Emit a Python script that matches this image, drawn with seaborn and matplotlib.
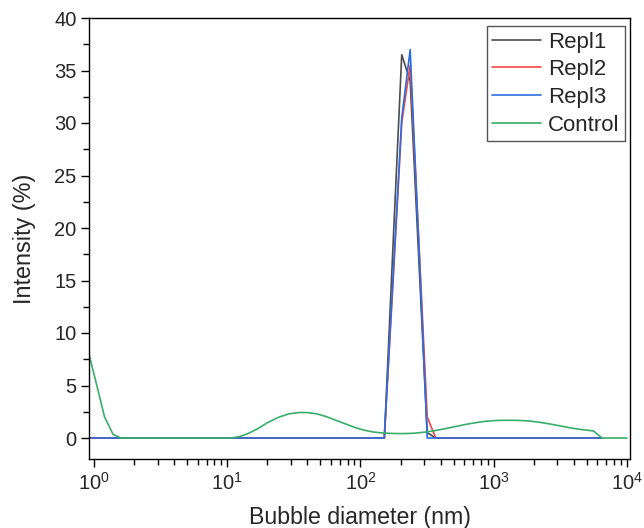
import numpy as np
import pandas as pd
import matplotlib
matplotlib.use('Agg')
import matplotlib.pyplot as plt
import seaborn as sns

# Replicate size distributions (diameter in nm, intensity in %)
repl_size = [0.85, 151, 175, 204, 236, 274, 317, 367, 6500]
repl1 = [0, 0, 18.0, 36.5, 34.0, 17.0, 0.5, 0, 0]
repl2 = [0, 0, 14.5, 30.0, 35.5, 18.8, 2.0, 0, 0]
repl3 = [0, 0, 15.0, 30.5, 37.0, 18.5, 0, 0, 0]

# Control sample
ctrl_size = [0.9, 1.05, 1.2, 1.39, 1.59, 2.0, 5.0, 10.0, 11.0, 12.5, 14.5, 17, 20, 24, 29,
             35, 40, 47, 55, 65, 77, 90, 106, 125, 148, 175, 210, 250, 300, 360, 430,
             520, 620, 740, 880, 1050, 1260, 1500, 1800, 2150, 2600, 3100, 3700, 4400,
             5600, 6500, 10000]
ctrl = [8.4, 5.0, 2.0, 0.35, 0.0, 0.0, 0.0, 0.0, 0.02, 0.15, 0.45, 0.9, 1.45, 1.95, 2.3,
        2.43, 2.42, 2.3, 2.05, 1.7, 1.35, 1.02, 0.75, 0.57, 0.47, 0.43, 0.42, 0.45, 0.55,
        0.7, 0.88, 1.1, 1.3, 1.47, 1.6, 1.67, 1.69, 1.68, 1.63, 1.52, 1.35, 1.17, 0.98,
        0.83, 0.67, 0.0, 0.0]

series = [
    ('Repl1', repl_size, repl1, '#4d4d4d'),
    ('Repl2', repl_size, repl2, '#f04848'),
    ('Repl3', repl_size, repl3, '#2a6ee0'),
    ('Control', ctrl_size, ctrl, '#3aad6a'),
]

sns.set_style('ticks')
plt.rcParams['font.family'] = ['Liberation Sans', 'DejaVu Sans']
plt.rcParams['mathtext.fontset'] = 'custom'
plt.rcParams['mathtext.rm'] = 'Liberation Sans'
plt.rcParams['mathtext.it'] = 'Liberation Sans'
plt.rcParams['mathtext.bf'] = 'Liberation Sans'

fig = plt.figure(figsize=(6.44, 5.28), dpi=100)
ax = fig.add_axes([89 / 644, 1 - 459 / 528, 541 / 644, 441 / 528])

for name, xs, ys, col in series:
    df = pd.DataFrame({'x': xs, 'y': ys})
    sns.lineplot(data=df, x='x', y='y', ax=ax, color=col, lw=1.2, label=name,
                 sort=False, estimator=None)

ax.set_xscale('log')
ax.set_xlim(0.917, 10540)
ax.set_ylim(-2, 40)
ax.set_yticks(np.arange(0, 41, 5))
ax.yaxis.set_minor_locator(matplotlib.ticker.MultipleLocator(2.5))

for sp in ax.spines.values():
    sp.set_visible(True)
    sp.set_linewidth(1.0)
    sp.set_color('black')

ax.tick_params(which='major', length=6, width=1.0, labelsize=14.5, direction='out',
               top=False, right=False, color='black', pad=3)
ax.tick_params(which='minor', length=4, width=1.0, direction='out',
               top=False, right=False, color='black')

ax.set_xlabel('Bubble diameter (nm)', fontsize=16.7, labelpad=9)
ax.set_ylabel('Intensity (%)', fontsize=16.8, labelpad=13)

leg = ax.legend(loc='upper right', bbox_to_anchor=(0.9908, 0.9819), borderaxespad=0,
                fontsize=16, frameon=True, fancybox=False, framealpha=1,
                edgecolor='#555555', handlelength=2.2, handletextpad=0.3,
                labelspacing=0.3, borderpad=0.25)
leg.get_frame().set_linewidth(1.0)

fig.savefig('out.png', dpi=100)
